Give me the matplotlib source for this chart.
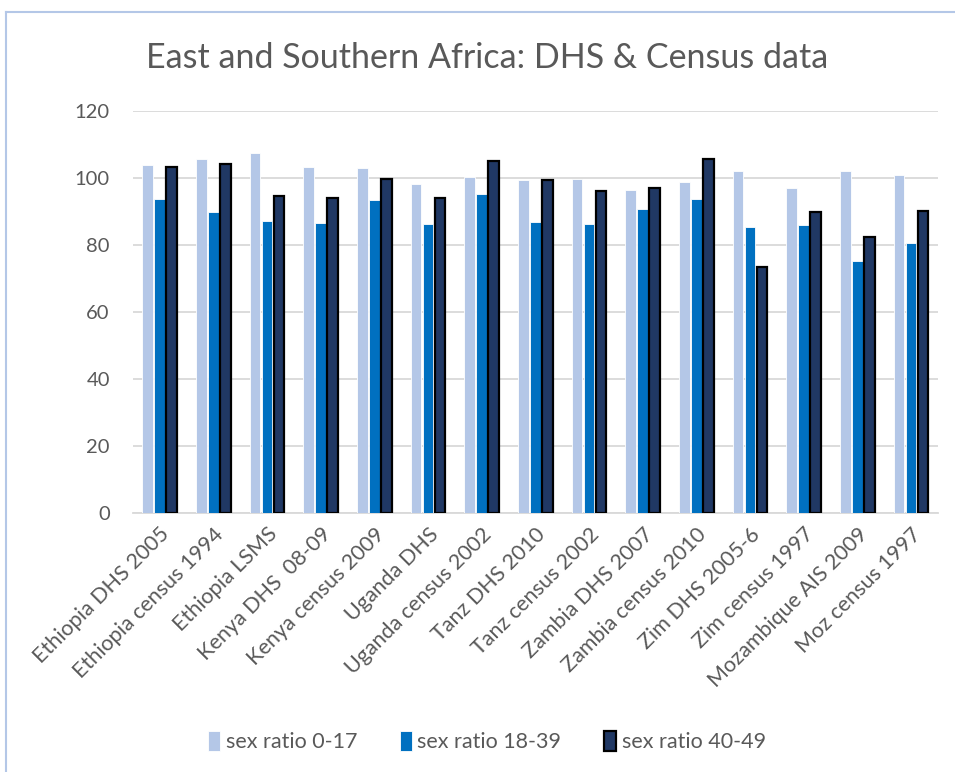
import numpy as np
import matplotlib
matplotlib.use("Agg")
import matplotlib.pyplot as plt
from matplotlib.lines import Line2D

# data
surveys = ["Ethiopia DHS 2005", "Ethiopia census 1994", "Ethiopia LSMS", "Kenya DHS  08-09",
           "Kenya census 2009", "Uganda DHS", "Uganda census 2002", "Tanz DHS 2010",
           "Tanz census 2002", "Zambia DHS 2007", "Zambia census 2010", "Zim DHS 2005-6",
           "Zim census 1997", "Mozambique AIS 2009", "Moz census 1997"]
ratio_0_17 = [104.0, 105.6, 107.5, 103.3, 103.1, 98.1, 100.4, 99.3, 99.8, 96.4, 98.9, 102.0, 96.9, 102.0, 100.8]
ratio_18_39 = [93.8, 90.0, 87.1, 86.6, 93.3, 86.2, 95.2, 87.0, 86.3, 90.8, 93.8, 85.5, 85.9, 75.1, 80.7]
ratio_40_49 = [103.3, 104.2, 94.5, 94.1, 99.7, 93.9, 105.1, 99.4, 96.0, 97.0, 105.6, 73.5, 89.8, 82.4, 90.3]
series_names = ["sex ratio 0-17", "sex ratio 18-39", "sex ratio 40-49"]

plt.rcParams['font.family'] = ['Lato', 'DejaVu Sans']
txt = '#595959'

fig = plt.figure(figsize=(9.55, 7.72), dpi=100)
ax = fig.add_axes([0.139, 0.3355, 0.843, 0.5207])

x = np.arange(len(surveys))
w = 0.2
step = 0.223
ax.bar(x - step, ratio_0_17, w, color='#B4C7E7', edgecolor='white', linewidth=0.6, label=series_names[0], zorder=3)
ax.bar(x, ratio_18_39, w, color='#0070C0', edgecolor='white', linewidth=0.6, label=series_names[1], zorder=3)
ax.bar(x + step, ratio_40_49, w, color='#203864', edgecolor='black', linewidth=1.6, label=series_names[2], zorder=3)

ax.set_xlim(-0.5, len(surveys) - 0.5)
ax.set_ylim(0, 120)
ax.set_yticks(np.arange(0, 121, 20))
ax.yaxis.grid(True, color='#D9D9D9', linewidth=1.3, zorder=0)
for s in ['top', 'right', 'left']:
    ax.spines[s].set_visible(False)
ax.spines['bottom'].set_color('#D9D9D9')
ax.spines['bottom'].set_linewidth(1.3)
ax.tick_params(axis='both', length=0, colors=txt)
ax.tick_params(axis='y', pad=16.5, labelsize=14.5)
ax.set_xticks(x)
ax.set_xticklabels(surveys, rotation=45, ha='right', rotation_mode='anchor')
ax.tick_params(axis='x', pad=8, labelsize=15.5)

fig.text(0.51, 0.925, "East and Southern Africa: DHS & Census data", ha='center', va='center',
         fontsize=24.5, color=txt)

leg = fig.legend(loc='center', bbox_to_anchor=(0.51, 0.039), ncol=3, frameon=False,
                 fontsize=15.5, handlelength=0.55, handleheight=1.0, handletextpad=0.25, columnspacing=2.0)
for t in leg.get_texts():
    t.set_color(txt)

# chart frame (top and left edges visible)
fig.add_artist(Line2D([0.0063, 0.0063], [0, 0.984], color='#B4C7E7', linewidth=1.5))
fig.add_artist(Line2D([0.0063, 1.0], [0.984, 0.984], color='#B4C7E7', linewidth=1.5))

fig.savefig("out.png", dpi=100)
